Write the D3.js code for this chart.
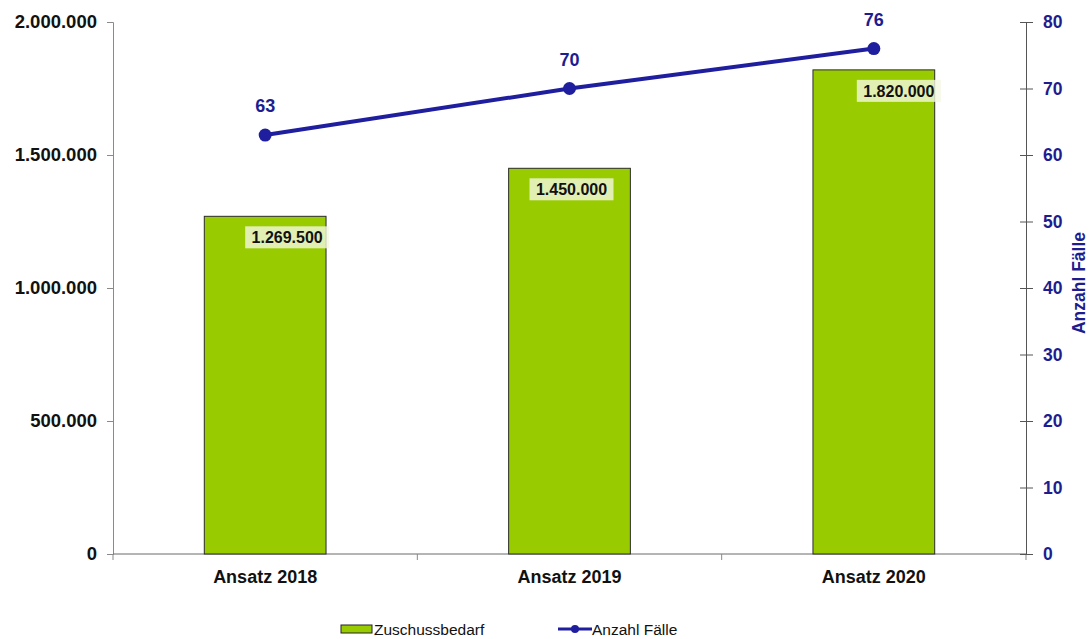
<!DOCTYPE html>
<html><head><meta charset="utf-8">
<script src="https://cdn.jsdelivr.net/npm/d3@7"></script>
<style>body{margin:0;background:#fff}svg{display:block;font-family:Arial,"Liberation Sans",sans-serif}</style>
</head><body><svg id="c" width="1089" height="639"></svg>
<script>
const categories = ["Ansatz 2018","Ansatz 2019","Ansatz 2020"];
const zuschussbedarf = [1269500,1450000,1820000];
const anzahlFaelle = [63,70,76];
const leftTicks = [0,500000,1000000,1500000,2000000];
const rightTicks = [0,10,20,30,40,50,60,70,80];
const seriesNames = ["Zuschussbedarf","Anzahl Fälle"];

const labelDx = [22, 2, 25]; // manual label placement as in reference

const svg = d3.select("#c");
const m = {l:113, r:1026, t:22, b:554};
const fmtDE = v => { const s = String(Math.round(v)); return s.replace(/\B(?=(\d{3})+(?!\d))/g, "."); };

const x = d3.scaleBand().domain(categories).range([m.l, m.r]).padding(0);
const yL = d3.scaleLinear().domain([0,2000000]).range([m.b, m.t]);
const yR = d3.scaleLinear().domain([0,80]).range([m.b, m.t]);
const navy = "#1d1d8f";
const line = "#1e1e9e";

// left axis
const gL = svg.append("g").attr("transform",`translate(${m.l},0)`)
  .call(d3.axisLeft(yL).tickValues(leftTicks).tickFormat(fmtDE).tickSize(6).tickPadding(10));
gL.select(".domain").attr("stroke","#8a8a8a");
gL.selectAll(".tick line").attr("stroke","#8a8a8a");
gL.selectAll("text").attr("font-size",18.5).attr("font-weight","bold").attr("fill","#111");

// bottom axis
const gB = svg.append("g").attr("transform",`translate(0,${m.b})`);
gB.append("line").attr("x1",m.l).attr("x2",m.r).attr("stroke","#6a6a6a");
const bounds = [m.l, ...categories.map(c => x(c)+x.bandwidth())];
gB.selectAll("line.tk").data(bounds).join("line").attr("class","tk")
  .attr("x1",d=>d).attr("x2",d=>d).attr("y1",0).attr("y2",6).attr("stroke","#8a8a8a");
gB.selectAll("text").data(categories).join("text")
  .attr("x",d=>x(d)+x.bandwidth()/2).attr("y",29).attr("text-anchor","middle")
  .attr("font-size",18).attr("font-weight","bold").attr("fill","#111").text(d=>d);

// right axis
const gR = svg.append("g").attr("transform",`translate(${m.r},0)`)
  .call(d3.axisRight(yR).tickValues(rightTicks).tickSize(7).tickPadding(10));
gR.select(".domain").attr("stroke","#555");
gR.selectAll(".tick line").attr("stroke","#555").attr("x1",-6);
gR.selectAll("text").attr("font-size",17.5).attr("font-weight","bold").attr("fill",navy);
svg.append("text").attr("transform",`translate(1085,283) rotate(-90)`)
  .attr("text-anchor","middle").attr("font-size",17.5).attr("font-weight","bold").attr("fill",navy)
  .text("Anzahl Fälle");

// bars
const bw = x.bandwidth()*0.4;
svg.append("g").selectAll("rect").data(categories).join("rect")
  .attr("x",(d)=>x(d)+x.bandwidth()/2-bw/2).attr("width",bw)
  .attr("y",(d,i)=>yL(zuschussbedarf[i])).attr("height",(d,i)=>m.b-yL(zuschussbedarf[i]))
  .attr("fill","#99cc00").attr("stroke","#2a2a2a").attr("stroke-width",1);

// bar labels
const bl = svg.append("g").selectAll("g").data(categories).join("g")
  .attr("transform",(d,i)=>`translate(${x(d)+x.bandwidth()/2+labelDx[i]},${yL(zuschussbedarf[i])+21})`);
bl.append("rect").attr("x",-42).attr("y",-11).attr("width",84).attr("height",22)
  .attr("fill","#f2f8e0").attr("opacity",0.8);
bl.append("text").attr("text-anchor","middle").attr("dy","0.36em")
  .attr("font-size",16).attr("font-weight","bold").attr("fill","#111")
  .text((d,i)=>fmtDE(zuschussbedarf[i]));

// line
const cx = d => x(d)+x.bandwidth()/2;
svg.append("path").datum(categories)
  .attr("d", d3.line().x(cx).y((d,i)=>yR(anzahlFaelle[i])))
  .attr("fill","none").attr("stroke",line).attr("stroke-width",4);
svg.append("g").selectAll("circle").data(categories).join("circle")
  .attr("cx",cx).attr("cy",(d,i)=>yR(anzahlFaelle[i])).attr("r",6.5).attr("fill",line);
svg.append("g").selectAll("text").data(categories).join("text")
  .attr("x",cx).attr("y",(d,i)=>yR(anzahlFaelle[i])-23).attr("text-anchor","middle")
  .attr("font-size",18).attr("font-weight","bold").attr("fill",navy)
  .text((d,i)=>anzahlFaelle[i]);

// legend
const lg = svg.append("g");
lg.append("rect").attr("x",341).attr("y",625).attr("width",31).attr("height",8)
  .attr("fill","#99cc00").attr("stroke","#222");
lg.append("text").attr("x",374).attr("y",635).attr("font-size",15.5).attr("fill","#111").text(seriesNames[0]);
lg.append("line").attr("x1",558).attr("x2",592).attr("y1",629).attr("y2",629).attr("stroke",line).attr("stroke-width",3);
lg.append("circle").attr("cx",575).attr("cy",629).attr("r",4).attr("fill",line);
lg.append("text").attr("x",592).attr("y",635).attr("font-size",15.5).attr("fill","#111").text(seriesNames[1]);
</script></body></html>
